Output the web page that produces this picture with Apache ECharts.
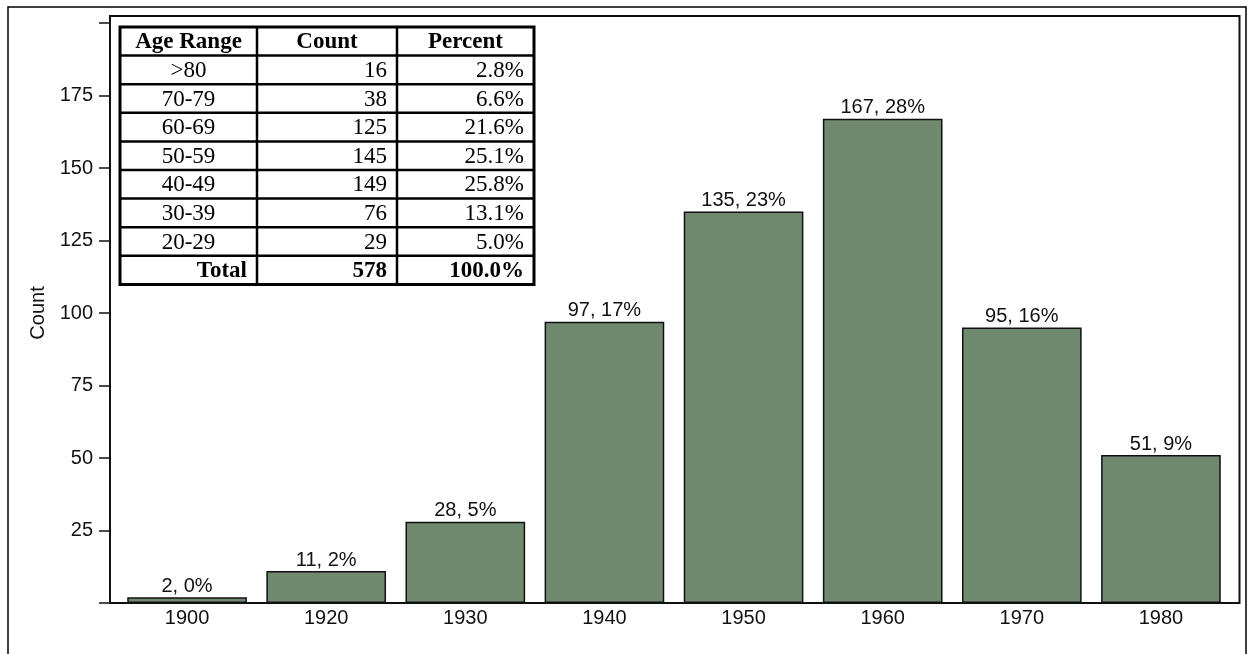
<!DOCTYPE html>
<html>
<head>
<meta charset="utf-8">
<script src="https://cdn.jsdelivr.net/npm/echarts@6/dist/echarts.min.js"></script>
<style>
html,body{margin:0;padding:0;background:#fff;}
#chart{width:1249px;height:654px;}
</style>
</head>
<body>
<div id="chart"></div>
<script>
// ---- data ----
const years = ['1900','1920','1930','1940','1950','1960','1970','1980'];
const counts = [2, 11, 28, 97, 135, 167, 95, 51];
const pctLabels = ['0%','2%','5%','17%','23%','28%','16%','9%'];
const yMin = 0, yMax = 200, yStep = 25;
const yHiddenLabels = [0, 200];
const yName = 'Count';

const tableHeader = ['Age Range','Count','Percent'];
const ageRanges = ['>80','70-79','60-69','50-59','40-49','30-39','20-29'];
const ageCounts = ['16','38','125','145','149','76','29'];
const agePercents = ['2.8%','6.6%','21.6%','25.1%','25.8%','13.1%','5.0%'];
const totalRow = ['Total','578','100.0%'];

// ---- table graphic ----
const colEdges = [120, 257, 397, 534];
const tTop = 27, rowH = 28.6;
const nRows = 2 + ageRanges.length;
const tBottom = tTop + nRows * rowH;
const serif = '"Liberation Serif", "DejaVu Serif", serif';
const els = [];
els.push({type:'rect', shape:{x:colEdges[0], y:tTop, width:colEdges[3]-colEdges[0], height:tBottom-tTop},
  style:{fill:'#fff', stroke:'#000', lineWidth:3}, z:10});
for (let i = 1; i < nRows; i++) {
  const y = tTop + i*rowH;
  els.push({type:'line', shape:{x1:colEdges[0], y1:y, x2:colEdges[3], y2:y}, style:{stroke:'#000', lineWidth:2.5}, z:11});
}
for (let c = 1; c < 3; c++) {
  els.push({type:'line', shape:{x1:colEdges[c], y1:tTop, x2:colEdges[c], y2:tBottom}, style:{stroke:'#000', lineWidth:2.5}, z:11});
}
function cellText(txt, row, col, align, bold) {
  const yc = tTop + row*rowH + rowH/2 + 1;
  let x;
  if (align === 'center') x = (colEdges[col] + colEdges[col+1]) / 2;
  else x = colEdges[col+1] - 10;
  els.push({type:'text', x:x, y:yc, z:12,
    style:{text:txt, fill:'#000', font:(bold?'bold ':'') + '23px ' + serif,
      align:align, textAlign:align, verticalAlign:'middle', textVerticalAlign:'middle'}});
}
tableHeader.forEach((h, c) => cellText(h, 0, c, 'center', true));
ageRanges.forEach((a, i) => {
  cellText(a, i+1, 0, 'center', false);
  cellText(ageCounts[i], i+1, 1, 'right', false);
  cellText(agePercents[i], i+1, 2, 'right', false);
});
cellText(totalRow[0], nRows-1, 0, 'right', true);
cellText(totalRow[1], nRows-1, 1, 'right', true);
cellText(totalRow[2], nRows-1, 2, 'right', true);

// outer border
els.push({type:'rect', shape:{x:8, y:7, width:1238, height:660}, style:{fill:'none', stroke:'#000', lineWidth:1.5}, z:0});

const sans = '"Liberation Sans", Arial, Helvetica, sans-serif';
const chart = echarts.init(document.getElementById('chart'), null, {renderer:'canvas'});
chart.setOption({
  animation: false,
  backgroundColor: '#fff',
  textStyle: {fontFamily: sans},
  grid: [
    {left:117.5, right:18.5, top:23, bottom:51, containLabel:false},
    {left:110, right:9.5, top:16, bottom:51, show:true, borderColor:'#111', borderWidth:2, backgroundColor:'transparent', z:1}
  ],
  xAxis: [
    {type:'category', gridIndex:0, data:years,
      axisLine:{show:false}, axisTick:{show:false},
      axisLabel:{color:'#111', fontSize:20, fontFamily:sans, margin:5}},
    {type:'value', gridIndex:1, show:false, min:0, max:1}
  ],
  yAxis: [
    {type:'value', gridIndex:0, min:yMin, max:yMax, interval:yStep, offset:7.5,
      name:yName, nameLocation:'middle', nameRotate:90, nameGap:60,
      nameTextStyle:{color:'#111', fontSize:20, fontFamily:sans},
      splitLine:{show:false},
      axisLine:{show:true, lineStyle:{color:'#111', width:2}},
      axisTick:{show:true, length:11, lineStyle:{color:'#111', width:1.5}},
      axisLabel:{color:'#111', fontSize:20, fontFamily:sans, margin:17,
        formatter: v => yHiddenLabels.indexOf(v) >= 0 ? '' : String(v)}},
    {type:'value', gridIndex:1, show:false, min:0, max:1}
  ],
  series: [{
    type:'bar', xAxisIndex:0, yAxisIndex:0, data:counts,
    barCategoryGap:'14%',
    itemStyle:{color:'#708a70', borderColor:'#111', borderWidth:1.5},
    label:{show:true, position:'top', distance:1, color:'#111', fontSize:20, fontFamily:sans,
      formatter: p => p.value + ', ' + pctLabels[p.dataIndex]},
    z:3
  }],
  graphic: els
});
</script>
</body>
</html>
